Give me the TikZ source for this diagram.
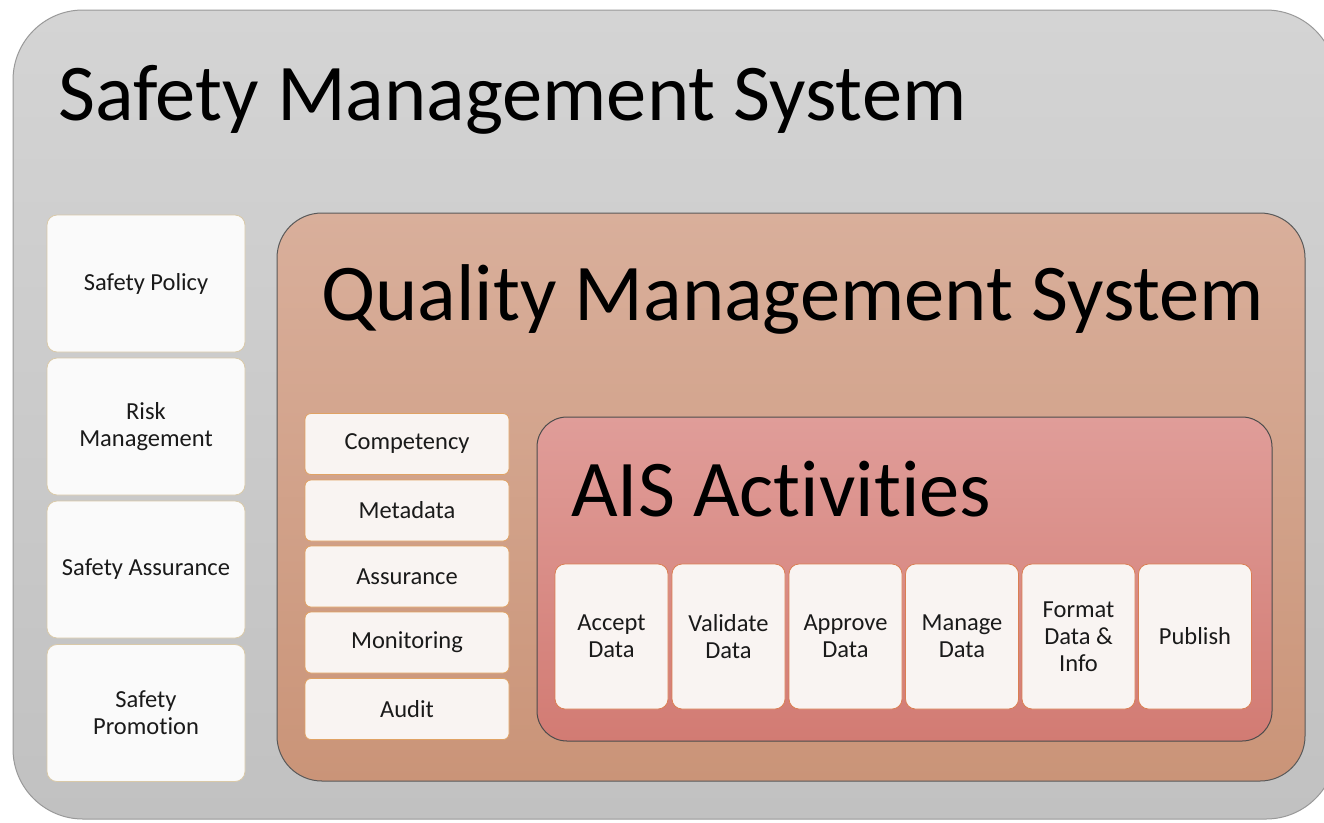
\documentclass[tikz,border=0pt]{standalone}
\usepackage{fontspec}
\setmainfont{Carlito}[Ligatures=NoCommon]
\definecolor{smstop}{HTML}{D4D4D4}
\definecolor{smsbot}{HTML}{C1C1C1}
\definecolor{qmstop}{HTML}{D9AF9B}
\definecolor{qmsbot}{HTML}{CA9478}
\definecolor{aistop}{HTML}{E09D99}
\definecolor{aisbot}{HTML}{D27B73}
\definecolor{itemfill}{HTML}{F9F4F2}
\definecolor{smsline}{HTML}{D9C9A8}
\definecolor{qmsline}{HTML}{E0A264}
\definecolor{aisline}{HTML}{DA7E52}
\definecolor{textcol}{HTML}{1A1A1A}
\tikzset{
	bigtitle/.style={anchor=base west, inner sep=0pt, font=\fontsize{80.5}{90}\selectfont},
	smsitem/.style={draw=smsline, fill=white!98!black, rounded corners=10pt, line width=0.8pt,
		minimum width=198pt, minimum height=137pt, align=center, text=textcol,
		font=\fontsize{24.5}{27}\selectfont},
	qmsitem/.style={draw=qmsline, fill=itemfill, rounded corners=6pt, line width=0.8pt,
		minimum width=204pt, minimum height=61pt, align=center, text=textcol,
		font=\fontsize{24.5}{27}\selectfont},
	aisitem/.style={draw=aisline, fill=itemfill, rounded corners=10pt, line width=0.8pt,
		minimum width=113pt, minimum height=145pt, align=center, text=textcol,
		font=\fontsize{24.5}{27}\selectfont}
}
\begin{document}
\begin{tikzpicture}[x=1pt,y=-1pt]
	\useasboundingbox[fill=white] (0,0) rectangle (1324,822);
	% outer frame
	\draw[draw=gray!80, line width=1pt, top color=smstop, bottom color=smsbot, rounded corners=70pt]
		(13,10) rectangle (1336,819);
	\node[bigtitle] (smstitle) at (58,120) {Safety Management System};
	\node[smsitem] (policy) at (146,283.5) {Safety Policy};
	\node[smsitem] (risk) at (146,426.5) {Risk\\Management};
	\node[smsitem] (sassurance) at (146,569.5) {Safety Assurance};
	\node[smsitem] (promotion) at (146,713) {Safety\\Promotion};
	% quality management
	\draw[draw=gray!70!black, line width=1pt, top color=qmstop, bottom color=qmsbot, rounded corners=45pt]
		(277,213) rectangle (1305,781);
	\node[bigtitle] (qmstitle) at (321,320) {Quality Management System};
	\node[qmsitem] (competency) at (407,444) {Competency};
	\node[qmsitem] (metadata) at (407,510.5) {Metadata};
	\node[qmsitem] (qassurance) at (407,576.5) {Assurance};
	\node[qmsitem] (monitoring) at (407,642.5) {Monitoring};
	\node[qmsitem] (audit) at (407,709) {Audit};
	% ais activities
	\draw[draw=gray!60!black, line width=1pt, top color=aistop, bottom color=aisbot, rounded corners=30pt]
		(537,417) rectangle (1272,741);
	\node[bigtitle] (aistitle) at (571,516) {AIS Activities};
	\node[aisitem] (accept) at (611.5,636.5) {Accept\\Data};
	\node[aisitem] (validate) at (728.5,636.5) {Validate\\Data};
	\node[aisitem] (approve) at (845.5,636.5) {Approve\\Data};
	\node[aisitem] (manage) at (962,636.5) {Manage\\Data};
	\node[aisitem] (format) at (1078.5,636.5) {Format\\Data \&\\Info};
	\node[aisitem] (publish) at (1195,636.5) {Publish};
\end{tikzpicture}
\end{document}
